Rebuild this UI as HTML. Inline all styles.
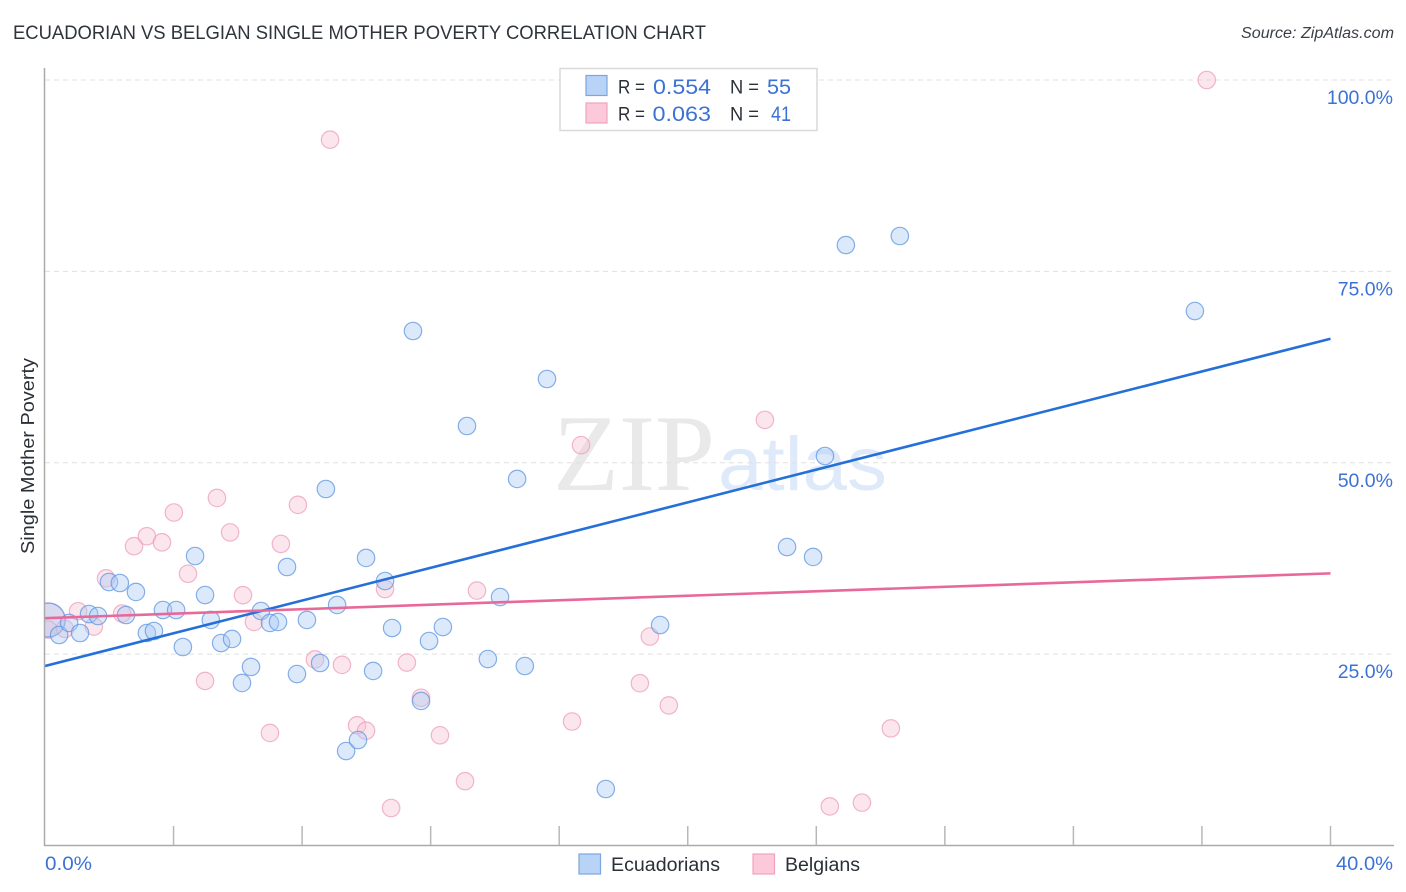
<!DOCTYPE html>
<html lang="en">
<head>
<meta charset="utf-8">
<title>Ecuadorian vs Belgian Single Mother Poverty Correlation Chart</title>
<style>
html,body{margin:0;padding:0;background:#fff;}
svg{display:block;font-family:"Liberation Sans",sans-serif;}
</style>
</head>
<body>
<svg id="chart" xmlns="http://www.w3.org/2000/svg" width="1406" height="892" viewBox="0 0 1406 892">
  <defs>
    <clipPath id="plot-clip"><rect x="45" y="60" width="1349" height="785"/></clipPath>
  </defs>
  <rect x="0" y="0" width="1406" height="892" fill="#ffffff"/>

  <text x="13" y="39" font-size="19.5" fill="#2f343c" textLength="693" lengthAdjust="spacingAndGlyphs">ECUADORIAN VS BELGIAN SINGLE MOTHER POVERTY CORRELATION CHART</text>
  <text x="1241" y="38" font-size="15.5" font-style="italic" fill="#3a3f47" textLength="153" lengthAdjust="spacingAndGlyphs">Source: ZipAtlas.com</text>

  <g>
    <text x="553" y="490" font-family="'Liberation Serif',serif" font-size="109" fill="#e9e9e9" textLength="162" lengthAdjust="spacingAndGlyphs">ZIP</text>
    <text x="718" y="490" font-size="76" fill="#deeaf9" textLength="169" lengthAdjust="spacingAndGlyphs">atlas</text>
  </g>

  <g id="grid"></g>
  <g id="points-belgians" clip-path="url(#plot-clip)"></g>
  <g id="points-ecuadorians" clip-path="url(#plot-clip)"></g>
  <g id="trends"></g>
  <g id="axes"></g>
  <g id="y-labels"></g>
  <g id="x-labels"></g>

  <text transform="translate(34,456) rotate(-90)" font-size="18.5" fill="#2b3038" text-anchor="middle" textLength="196" lengthAdjust="spacingAndGlyphs">Single Mother Poverty</text>

  <g>
    <rect x="560" y="68.5" width="257" height="62" fill="#ffffff" fill-opacity="0.92" stroke="#d9d9d9" stroke-width="1.5"/>
    <rect x="586" y="75.5" width="21" height="20" fill="#b8d3f6" stroke="#7ba6e3" stroke-width="1.2"/>
    <rect x="586" y="103" width="21" height="20" fill="#fcc9da" stroke="#f0a3bd" stroke-width="1.2"/>
    <text x="618" y="93.5" font-size="19" fill="#2b3038" textLength="27" lengthAdjust="spacingAndGlyphs">R =</text>
    <text x="653" y="94" font-size="21" fill="#3c72d4" textLength="58" lengthAdjust="spacingAndGlyphs">0.554</text>
    <text x="730" y="93.5" font-size="19" fill="#2b3038" textLength="29" lengthAdjust="spacingAndGlyphs">N =</text>
    <text x="767" y="94" font-size="21" fill="#3c72d4" textLength="24" lengthAdjust="spacingAndGlyphs">55</text>
    <text x="618" y="120.5" font-size="19" fill="#2b3038" textLength="27" lengthAdjust="spacingAndGlyphs">R =</text>
    <text x="652.5" y="121" font-size="21" fill="#3c72d4" textLength="58.5" lengthAdjust="spacingAndGlyphs">0.063</text>
    <text x="730" y="120.5" font-size="19" fill="#2b3038" textLength="29" lengthAdjust="spacingAndGlyphs">N =</text>
    <text x="771" y="121" font-size="21" fill="#3c72d4" textLength="20" lengthAdjust="spacingAndGlyphs">41</text>
  </g>

  <g>
    <rect x="579" y="854" width="21.5" height="20" fill="#b8d3f6" stroke="#7ba6e3" stroke-width="1.2"/>
    <text x="611" y="871" font-size="19" fill="#2b3038" textLength="109" lengthAdjust="spacingAndGlyphs">Ecuadorians</text>
    <rect x="753" y="854" width="21.5" height="20" fill="#fcc9da" stroke="#f0a3bd" stroke-width="1.2"/>
    <text x="785" y="871" font-size="19" fill="#2b3038" textLength="75" lengthAdjust="spacingAndGlyphs">Belgians</text>
  </g>
</svg>

<script>
const ecuadorianShare = [0.1,0.44,0.75,1.09,1.37,1.65,1.99,2.33,2.52,2.83,3.17,3.39,3.67,4.08,4.29,4.67,4.98,5.16,5.48,5.82,6.13,6.41,6.72,7.00,7.25,7.53,7.84,8.15,8.56,8.74,9.09,9.37,9.74,9.99,10.21,10.58,10.80,11.45,11.70,11.95,12.38,13.13,13.78,14.16,14.69,14.93,15.62,17.45,19.14,23.09,23.90,24.27,24.92,26.60,35.78];
const ecuadorianPoverty = [29.46,27.50,29.07,27.76,30.24,29.98,34.42,34.29,30.11,33.12,27.76,28.02,30.76,30.76,25.93,37.82,32.72,29.46,26.45,26.98,21.23,23.32,30.63,29.07,29.20,36.38,22.40,29.46,23.84,46.57,31.42,12.34,13.78,37.56,22.80,34.55,28.41,67.21,18.88,26.71,28.54,54.80,24.36,32.46,47.88,23.45,60.94,7.38,28.80,38.99,37.69,50.88,78.44,79.62,69.82];
const belgianShare = [0.1,0.1,0.62,1.03,1.52,1.90,2.40,2.77,3.17,3.64,4.01,4.45,4.98,5.35,5.76,6.16,6.50,7.00,7.34,7.87,8.40,8.87,9.24,9.71,9.99,10.58,10.77,11.26,11.70,12.29,13.07,13.44,16.40,16.68,18.51,18.82,19.41,22.40,24.42,25.42,26.32,36.15];
const belgianPoverty = [29.46,28.2,28.3,30.6,28.6,34.9,30.3,39.1,40.4,39.6,43.5,35.5,21.5,45.4,40.9,32.7,29.2,14.7,39.4,44.5,24.3,92.2,23.6,15.7,15.0,33.5,4.9,23.9,19.3,14.4,8.4,33.3,16.2,52.3,21.2,27.3,18.3,55.6,5.1,5.6,15.3,100];
const ecuadorianTrend = [23.45, 66.2];
const belgianTrend = [29.7, 35.55];
const trendDomain = [0, 40];
const yTicks = [25, 50, 75, 100];
const yTickLabels = ["25.0%", "50.0%", "75.0%", "100.0%"];
const xTicks = [4, 8, 12, 16, 20, 24, 28, 32, 36, 40];
const xEndLabels = ["0.0%", "40.0%"];

const NS = "http://www.w3.org/2000/svg";
function xScale(v) { return 45 + v * (1285.5 / 40); }
function yScale(v) { return 845.5 - v * 7.655; }
function make(parent, tag, attrs) {
  const el = document.createElementNS(NS, tag);
  for (const k in attrs) el.setAttribute(k, attrs[k]);
  document.getElementById(parent).appendChild(el);
  return el;
}

yTicks.forEach(function (t, i) {
  const g = make("grid", "line", {x1: 45, x2: 1394, y1: yScale(t), y2: yScale(t), stroke: "#e0e0e0", "stroke-width": 1, "stroke-dasharray": "5 4"});
  
  
  const lab = make("y-labels", "text", {x: 1393, y: yScale(t) + 24, "text-anchor": "end", "font-size": 19.5, fill: "#3c72d4"});
  lab.textContent = yTickLabels[i];
  
  
});

const axisY = make("axes", "line", {x1: 44.5, x2: 44.5, y1: 68, y2: 846, stroke: "#aaaaaa", "stroke-width": 1.5});


const axisX = make("axes", "line", {x1: 44, x2: 1394, y1: 845.5, y2: 845.5, stroke: "#aaaaaa", "stroke-width": 1.5});


xTicks.forEach(function (t) {
  const tick = make("axes", "line", {x1: xScale(t), x2: xScale(t), y1: 826, y2: 845, stroke: "#b8b8b8", "stroke-width": 1.5});
  
  
});

const xLabelLeft = make("x-labels", "text", {x: 45, y: 870, "font-size": 19.5, fill: "#3c72d4", textLength: 47, lengthAdjust: "spacingAndGlyphs"});
xLabelLeft.textContent = xEndLabels[0];


const xLabelRight = make("x-labels", "text", {x: 1336, y: 870, "font-size": 19.5, fill: "#3c72d4", textLength: 57, lengthAdjust: "spacingAndGlyphs"});
xLabelRight.textContent = xEndLabels[1];



function drawPoints(parent, xs, ys, fill, stroke, pointName) {
  xs.forEach(function (v, i) {
    const c = make(parent, "circle", {
      cx: xScale(v), cy: yScale(ys[i]), r: i === 0 ? 17 : 8.7,
      fill: fill, "fill-opacity": 0.42, stroke: stroke, "stroke-opacity": 0.75, "stroke-width": 1.2
    });
    
    
  });
}
drawPoints("points-belgians", belgianShare, belgianPoverty, "#f9c3d4", "#ee9db8", "belgians-point");
drawPoints("points-ecuadorians", ecuadorianShare, ecuadorianPoverty, "#a9cbf5", "#5f95e0", "ecuadorians-point");

const trendBlue = make("trends", "line", {x1: xScale(trendDomain[0]), x2: xScale(trendDomain[1]), y1: yScale(ecuadorianTrend[0]), y2: yScale(ecuadorianTrend[1]), stroke: "#2470d8", "stroke-width": 2.6});


const trendPink = make("trends", "line", {x1: xScale(trendDomain[0]), x2: xScale(trendDomain[1]), y1: yScale(belgianTrend[0]), y2: yScale(belgianTrend[1]), stroke: "#e8689a", "stroke-width": 2.6});


</script>
</body>
</html>
